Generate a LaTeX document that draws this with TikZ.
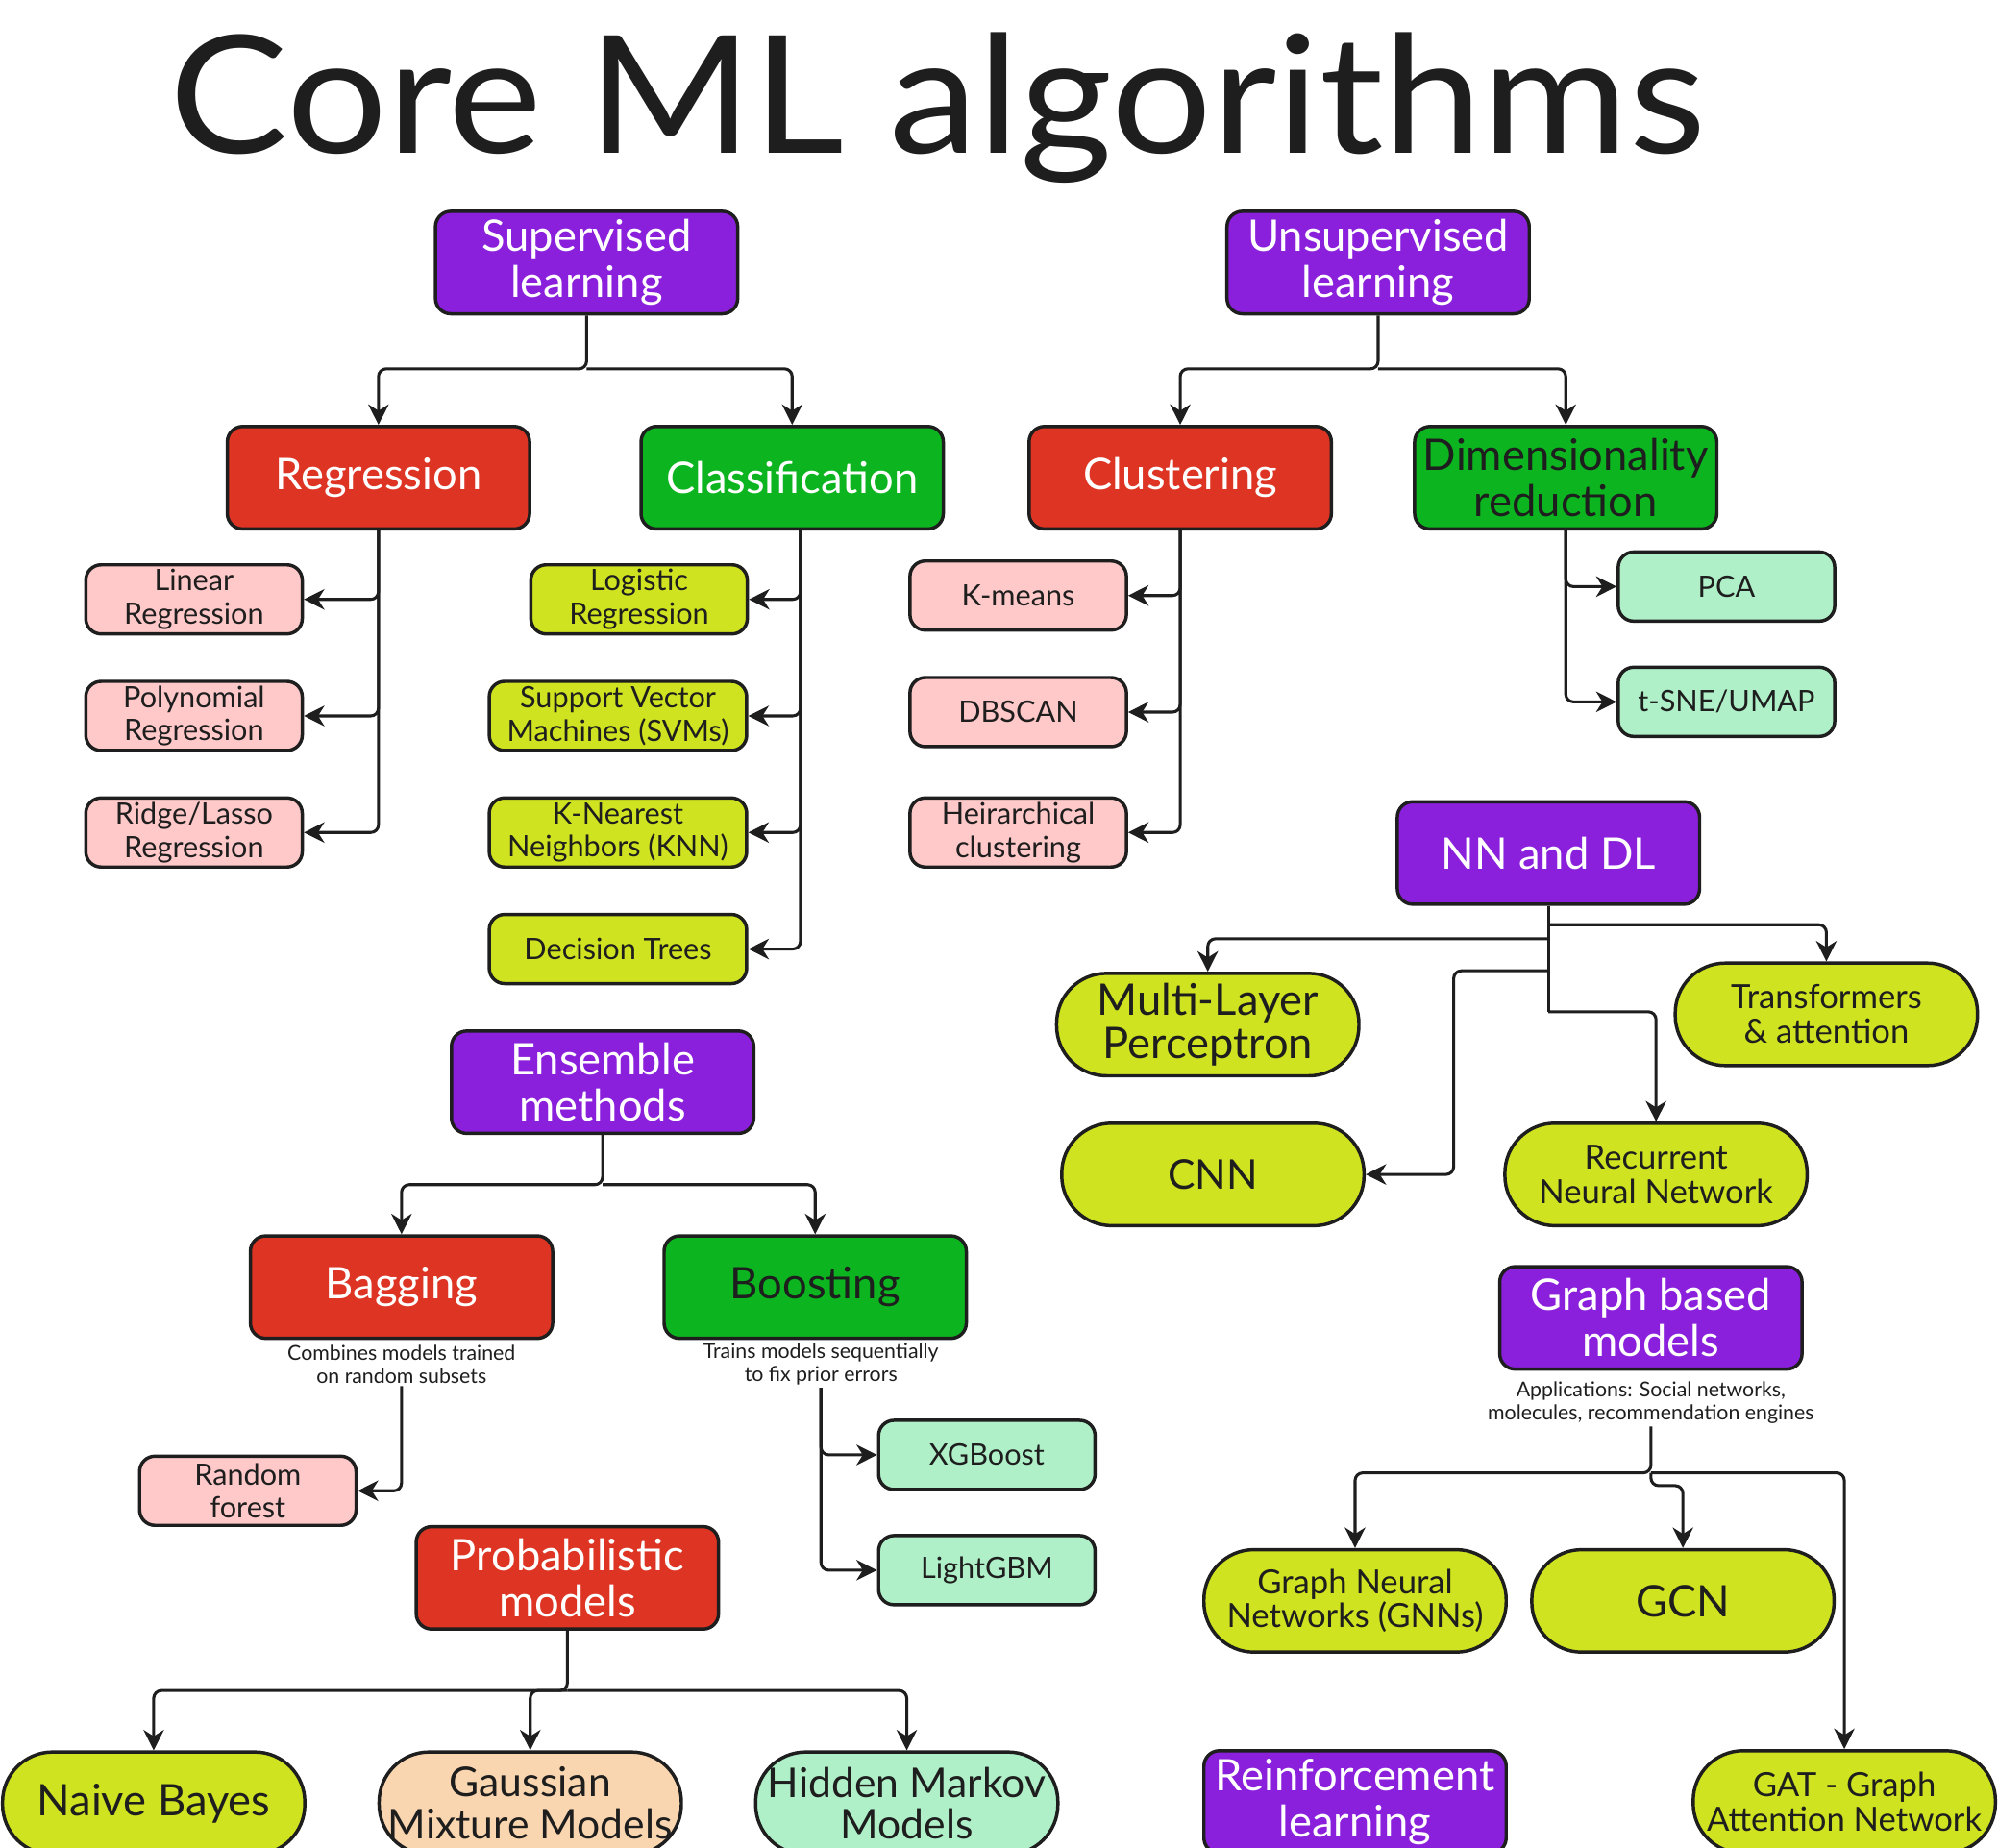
\documentclass[tikz,border=0pt]{standalone}
\usepackage{fontspec}
\setmainfont{Lato}
\usetikzlibrary{arrows.meta,calc}
\definecolor{ink}{HTML}{1E1E1E}
\definecolor{cpurple}{HTML}{8A20DC}
\definecolor{cred}{HTML}{DE3423}
\definecolor{cgreen}{HTML}{0CB520}
\definecolor{cpink}{HTML}{FFC9C9}
\definecolor{clime}{HTML}{D0E320}
\definecolor{cmint}{HTML}{AFF0C8}
\definecolor{cpeach}{HTML}{F9D6B0}
\begin{document}
\begin{tikzpicture}[x=0.5pt,y=-0.5pt,
 base/.style={draw=ink, line width=1.3pt, align=center, inner sep=0pt, text=ink},
 bigbox/.style={base, rounded corners=6pt, minimum width=118pt, minimum height=40pt, font=\fontsize{17}{18}\selectfont},
 smallbox/.style={base, rounded corners=6pt, minimum width=84.5pt, minimum height=27pt, font=\fontsize{11.5}{13}\selectfont},
 widebox/.style={smallbox, minimum width=100.5pt},
 pill/.style={base, rounded corners=19.5pt, minimum width=118pt, minimum height=40pt, fill=clime},
 purplebox/.style={bigbox, fill=cpurple, text=white},
 redbox/.style={bigbox, fill=cred, text=white},
 greenbox/.style={bigbox, fill=cgreen},
 capt/.style={font=\fontsize{8}{9}\selectfont, align=center, inner sep=1pt, text=ink},
 arr/.style={draw=ink, line width=1.15pt, rounded corners=3pt, -{Stealth[length=8pt,width=8pt,inset=2.5pt]}}
]
\useasboundingbox[fill=white] (0,0) rectangle (1560,1442.6);

% title
\node[anchor=base, font=\fontsize{64}{64}\selectfont, text=ink] (title) at (732,120) {\scalebox{1.085}[1]{Core ML algorithms}};

% supervised
\node[purplebox] (sup) at (458,205) {Supervised\\learning};
\node[purplebox] (unsup) at (1076,205) {Unsupervised\\learning};

\node[redbox] (reg) at (295.5,373) {Regression};
\node[greenbox, text=white] (cls) at (618.5,373) {Classification};
\node[redbox] (clu) at (921.5,373) {Clustering};
\node[greenbox] (dim) at (1222.5,373) {Dimensionality\\reduction};

\coordinate (js) at (458,288);
\coordinate (ju) at (1076,288);
\draw[arr] (sup.south) -- (js) -| (reg.north);
\draw[arr] (js) -| (cls.north);
\draw[arr] (unsup.south) -- (ju) -| (clu.north);
\draw[arr] (ju) -| (dim.north);

% regression children
\node[smallbox, fill=cpink] (lin) at (151.5,468) {Linear\\Regression};
\node[smallbox, fill=cpink] (poly) at (151.5,559) {Polynomial\\Regression};
\node[smallbox, fill=cpink] (ridge) at (151.5,650) {Ridge/Lasso\\Regression};
\draw[arr] (reg.south) |- (lin.east);
\draw[arr] (reg.south) |- (poly.east);
\draw[arr] (reg.south) |- (ridge.east);

% classification children
\node[smallbox, fill=clime] (logr) at (499,468) {Logistic\\Regression};
\node[widebox, fill=clime] (svm) at (482.5,559) {Support Vector\\Machines (SVMs)};
\node[widebox, fill=clime] (knn) at (482.5,650) {K-Nearest\\Neighbors (KNN)};
\node[widebox, fill=clime] (dt) at (482.5,741) {Decision Trees};
\coordinate (ct) at ($(cls.south)+(6.5,0)$);
\draw[arr] (ct) |- (logr.east);
\draw[arr] (ct) |- (svm.east);
\draw[arr] (ct) |- (knn.east);
\draw[arr] (ct) |- (dt.east);

% clustering children
\node[smallbox, fill=cpink] (km) at (795,465) {K-means};
\node[smallbox, fill=cpink] (db) at (795,556) {DBSCAN};
\node[smallbox, fill=cpink] (hier) at (795,650) {Heirarchical\\clustering};
\draw[arr] (clu.south) |- (km.east);
\draw[arr] (clu.south) |- (db.east);
\draw[arr] (clu.south) |- (hier.east);

% dimensionality children
\node[smallbox, fill=cmint] (pca) at (1348,458) {PCA};
\node[smallbox, fill=cmint] (tsne) at (1348,548) {t-SNE/UMAP};
\draw[arr] (dim.south) |- (pca.west);
\draw[arr] (dim.south) |- (tsne.west);

% NN and DL
\node[purplebox] (nn) at (1209,666) {NN and DL};
\node[pill, font=\fontsize{17}{17}\selectfont] (mlp) at (943,800) {Multi-Layer\\Perceptron};
\node[pill, font=\fontsize{13}{13.5}\selectfont] (trans) at (1426,792) {Transformers\\\& attention};
\node[pill, font=\fontsize{16}{16}\selectfont] (cnn) at (947,917) {CNN};
\node[pill, font=\fontsize{13}{13.5}\selectfont] (rnn) at (1293,917) {Recurrent\\Neural Network};
\coordinate (jn1) at (1209,722);
\coordinate (jn2) at (1209,733);
\coordinate (jn3) at (1209,758);
\coordinate (jn4) at (1209,790);
\coordinate (jc) at (1135,758);
\draw[draw=ink, line width=1.15pt] (nn.south) -- (jn4);
\draw[arr] (jn1) -| (trans.north);
\draw[arr] (jn2) -| (mlp.north);
\draw[arr] (jn3) -- (jc) |- (cnn.east);
\draw[arr] (jn4) -| (rnn.north);

% Graph based
\node[purplebox] (graph) at (1289,1029) {Graph based\\models};
\node[capt] (gcap) at (1289,1095) {Applications: Social networks,\\molecules, recommendation engines};
\node[pill, font=\fontsize{13}{13}\selectfont] (gnn) at (1058,1250) {Graph Neural\\Networks (GNNs)};
\node[pill, font=\fontsize{17}{17}\selectfont] (gcn) at (1314,1250) {GCN};
\node[pill, font=\fontsize{13}{13.5}\selectfont] (gat) at (1440,1407) {GAT - Graph\\Attention Network};
\node[purplebox] (rl) at (1058,1407) {Reinforcement\\learning};
\coordinate (jg) at (1289,1150);
\draw[arr] (gcap.south) -- (jg) -| (gnn.north);
\draw[arr] (jg) -| (gat.north);
\draw[arr] (jg) -- ++(0,10) -| (gcn.north);

% Ensemble
\node[purplebox] (ens) at (470.5,845) {Ensemble\\methods};
\node[redbox] (bag) at (313.5,1005) {Bagging};
\node[greenbox] (boost) at (636.5,1005) {Boosting};
\node[capt] (bcap) at (313.5,1065) {Combines models trained\\on random subsets};
\node[capt] (tcap) at (641,1065) {Trains models sequentially\\to fix prior errors};
\coordinate (je) at (470.5,925);
\draw[arr] (ens.south) -- (je) -| (bag.north);
\draw[arr] (je) -| (boost.north);
\node[smallbox, fill=cpink] (rf) at (193.5,1164) {Random\\forest};
\node[smallbox, fill=cmint] (xgb) at (770.5,1136) {XGBoost};
\node[smallbox, fill=cmint] (lgbm) at (770.5,1226) {LightGBM};
\draw[arr] (bcap.south) |- (rf.east);
\draw[arr] (tcap.south) |- (xgb.west);
\draw[arr] (tcap.south) |- (lgbm.west);

% Probabilistic
\node[redbox] (prob) at (443,1232) {Probabilistic\\models};
\node[pill, font=\fontsize{17}{17}\selectfont] (nb) at (120,1408) {Naive Bayes};
\node[pill, fill=cpeach, font=\fontsize{16}{16.5}\selectfont] (gmm) at (414,1408) {Gaussian\\Mixture Models};
\node[pill, fill=cmint, font=\fontsize{16}{16.5}\selectfont] (hmm) at (708,1408) {Hidden Markov\\Models};
\coordinate (jp) at (443,1320);
\draw[arr] (prob.south) -- (jp) -| (nb.north);
\draw[arr] (jp) -| (gmm.north);
\draw[arr] (jp) -| (hmm.north);
\end{tikzpicture}
\end{document}
